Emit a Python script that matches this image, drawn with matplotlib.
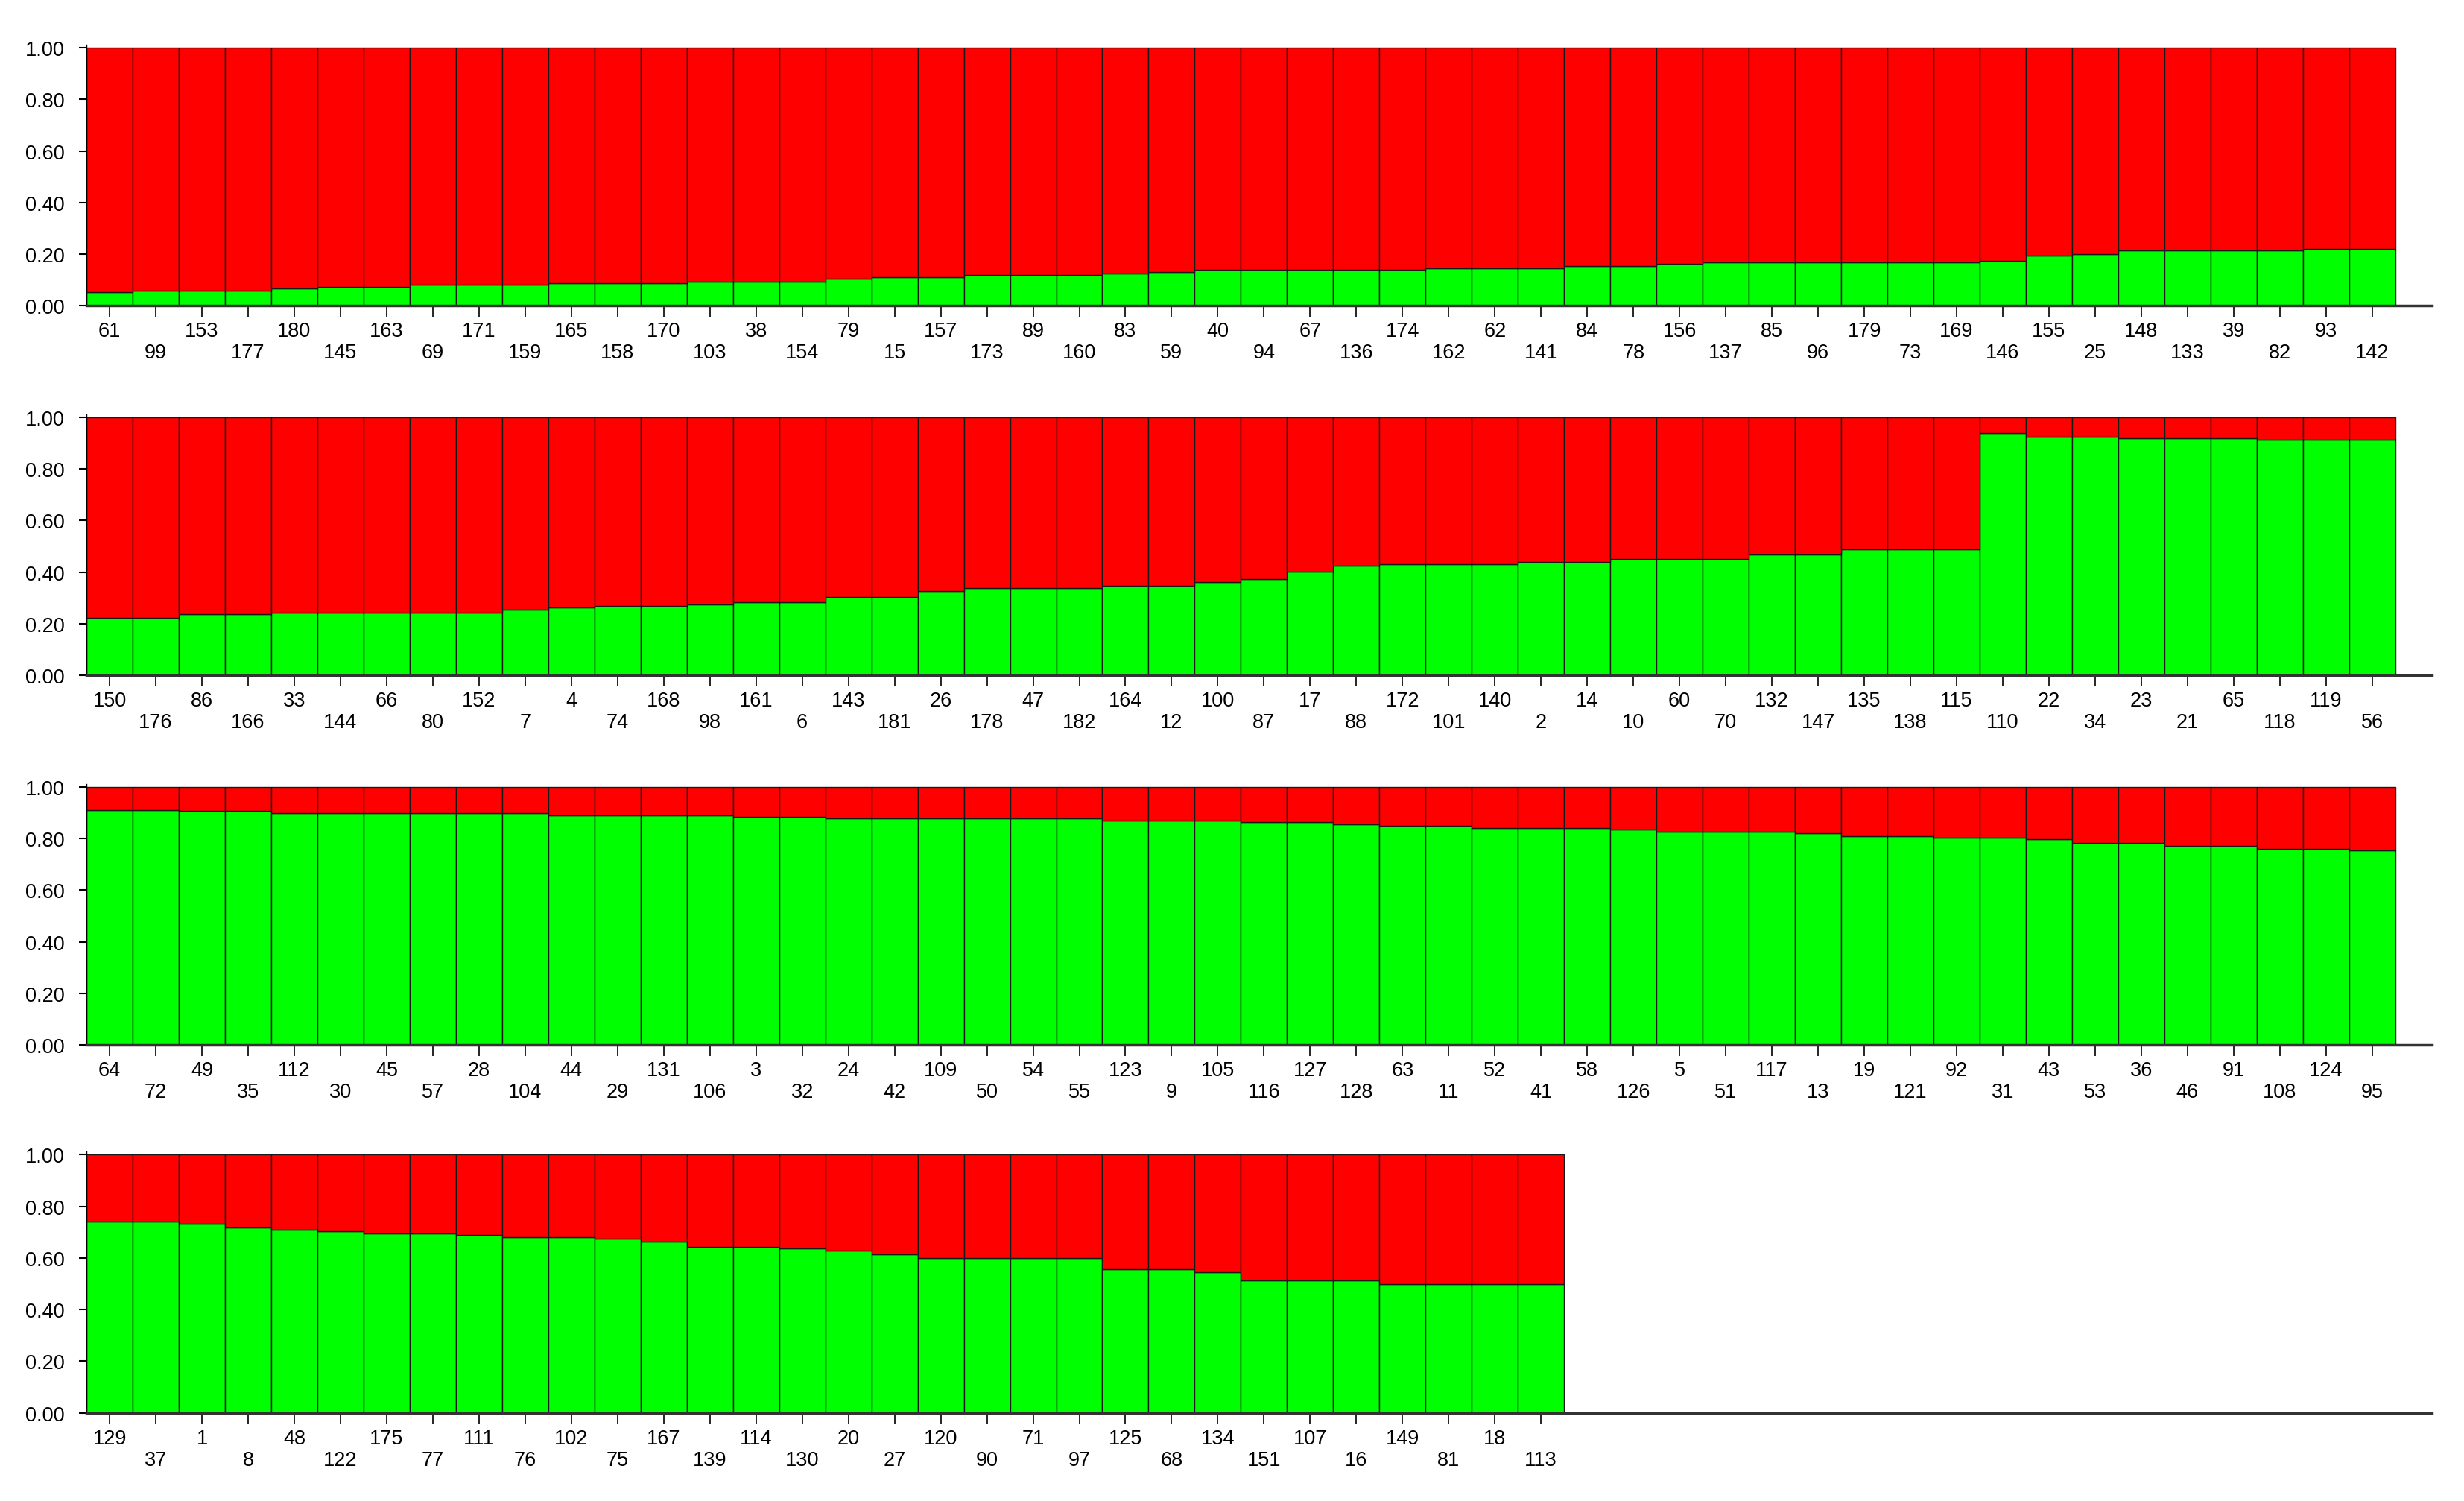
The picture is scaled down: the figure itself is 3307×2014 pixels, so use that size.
import numpy as np
import matplotlib.pyplot as plt
from matplotlib.ticker import FixedLocator

# sample ids, in plotted order, one list per panel
ids_1 = [61, 99, 153, 177, 180, 145, 163, 69, 171, 159, 165, 158, 170, 103, 38, 154, 79, 15, 157, 173,
         89, 160, 83, 59, 40, 94, 67, 136, 174, 162, 62, 141, 84, 78, 156, 137, 85, 96, 179, 73,
         169, 146, 155, 25, 148, 133, 39, 82, 93, 142]
ids_2 = [150, 176, 86, 166, 33, 144, 66, 80, 152, 7, 4, 74, 168, 98, 161, 6, 143, 181, 26, 178,
         47, 182, 164, 12, 100, 87, 17, 88, 172, 101, 140, 2, 14, 10, 60, 70, 132, 147, 135, 138,
         115, 110, 22, 34, 23, 21, 65, 118, 119, 56]
ids_3 = [64, 72, 49, 35, 112, 30, 45, 57, 28, 104, 44, 29, 131, 106, 3, 32, 24, 42, 109, 50,
         54, 55, 123, 9, 105, 116, 127, 128, 63, 11, 52, 41, 58, 126, 5, 51, 117, 13, 19, 121,
         92, 31, 43, 53, 36, 46, 91, 108, 124, 95]
ids_4 = [129, 37, 1, 8, 48, 122, 175, 77, 111, 76, 102, 75, 167, 139, 114, 130, 20, 27, 120, 90,
         71, 97, 125, 68, 134, 151, 107, 16, 149, 81, 18, 113]

# membership in cluster 1 (green); cluster 2 (red) = 1 - green
green_1 = [0.053, 0.058, 0.058, 0.058, 0.067, 0.074, 0.074, 0.082, 0.082, 0.082, 0.087, 0.087, 0.087,
           0.093, 0.093, 0.093, 0.106, 0.112, 0.112, 0.120, 0.120, 0.120, 0.125, 0.132, 0.141, 0.141,
           0.141, 0.141, 0.141, 0.146, 0.146, 0.146, 0.154, 0.154, 0.163, 0.168, 0.168, 0.168, 0.168,
           0.168, 0.168, 0.176, 0.195, 0.200, 0.214, 0.214, 0.214, 0.214, 0.221, 0.221]
green_2 = [0.224, 0.224, 0.236, 0.236, 0.243, 0.243, 0.243, 0.243, 0.243, 0.255, 0.262, 0.268, 0.268,
           0.275, 0.284, 0.284, 0.303, 0.303, 0.326, 0.337, 0.337, 0.337, 0.347, 0.347, 0.361, 0.374,
           0.402, 0.424, 0.432, 0.432, 0.432, 0.438, 0.438, 0.452, 0.452, 0.452, 0.468, 0.468, 0.488,
           0.488, 0.488, 0.940, 0.924, 0.924, 0.918, 0.918, 0.918, 0.912, 0.912, 0.912]
green_3 = [0.911, 0.911, 0.906, 0.906, 0.897, 0.897, 0.897, 0.897, 0.897, 0.897, 0.891, 0.891, 0.891,
           0.891, 0.884, 0.883, 0.877, 0.877, 0.877, 0.877, 0.877, 0.877, 0.868, 0.868, 0.868, 0.863,
           0.863, 0.855, 0.849, 0.849, 0.841, 0.841, 0.841, 0.834, 0.827, 0.827, 0.827, 0.819, 0.810,
           0.810, 0.802, 0.802, 0.796, 0.782, 0.782, 0.770, 0.770, 0.761, 0.761, 0.754]
green_4 = [0.740, 0.740, 0.733, 0.719, 0.709, 0.703, 0.695, 0.695, 0.690, 0.681, 0.681, 0.676, 0.664,
           0.642, 0.642, 0.638, 0.628, 0.614, 0.599, 0.599, 0.599, 0.599, 0.556, 0.556, 0.545, 0.513,
           0.513, 0.513, 0.499, 0.499, 0.499, 0.499]

panels = [(ids_1, green_1), (ids_2, green_2), (ids_3, green_3), (ids_4, green_4)]

plt.rcParams['font.family'] = ['Liberation Sans', 'DejaVu Sans']

fig = plt.figure(figsize=(33.07, 20.15), dpi=100)

# axes boxes (left, bottom, width, height) in figure fractions
tops = [0.9697, 0.7237, 0.4776, 0.2326]
h = 0.1739

for (ids, green), top in zip(panels, tops):
    ax = fig.add_axes([0.0351, top - h, 0.952, h])
    green = np.array(green)
    x = np.arange(len(ids)) + 0.5
    ax.bar(x, green, width=1.0, color='#00ff00', edgecolor='#1a1a1a', linewidth=1.0)
    ax.bar(x, 1 - green, bottom=green, width=1.0, color='#ff0000', edgecolor='#1a1a1a', linewidth=1.0)

    ax.set_xlim(0, 50.8)
    ax.set_ylim(0, 1.012)

    for s in ['top', 'right']:
        ax.spines[s].set_visible(False)
    ax.spines['left'].set_linewidth(1.0)
    ax.spines['bottom'].set_linewidth(2.5)
    ax.spines['bottom'].set_color('#333333')

    ax.set_yticks([0, 0.2, 0.4, 0.6, 0.8, 1.0])
    ax.set_yticklabels(['0.00', '0.20', '0.40', '0.60', '0.80', '1.00'])
    ax.tick_params(axis='y', length=7, width=1.5, pad=14, labelsize=19.5)

    # alternating labels: even bars on the upper row, odd bars on the lower one
    ax.xaxis.set_major_locator(FixedLocator(x[0::2]))
    ax.set_xticklabels([str(v) for v in ids[0::2]])
    ax.xaxis.set_minor_locator(FixedLocator(x[1::2]))
    ax.set_xticks(x[1::2], [str(v) for v in ids[1::2]], minor=True)
    ax.tick_params(axis='x', which='major', length=11, width=1.2, pad=4, labelsize=19.5)
    ax.tick_params(axis='x', which='minor', length=11, width=1.2, pad=25, labelsize=19.5)

plt.savefig('out.png', dpi=100)
